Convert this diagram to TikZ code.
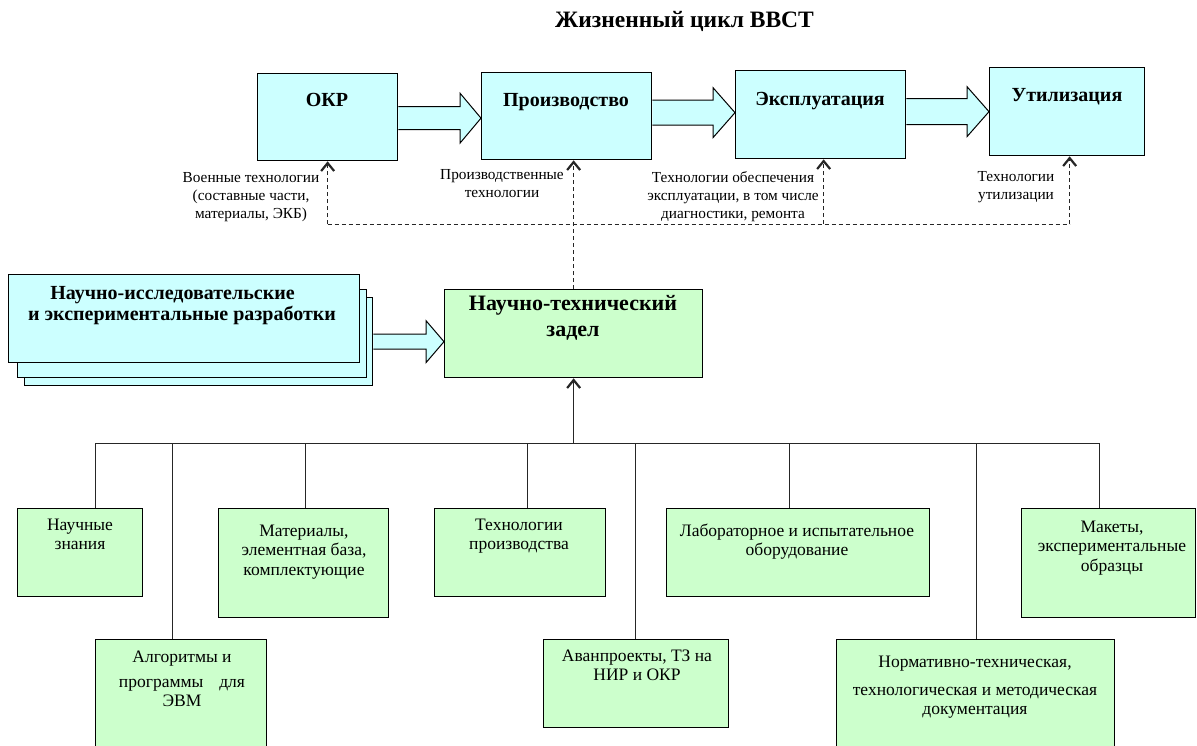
\documentclass[tikz,border=0pt]{standalone}
\usepackage{fontspec}
\setmainfont{Liberation Serif}
\usetikzlibrary{arrows.meta,calc}
\definecolor{cy}{HTML}{CCFFFF}
\definecolor{gr}{HTML}{CCFFCC}
\newcommand\blockarr[6]{%
  \filldraw[barr] let \p1=($(#1.east)+(0,#3)$), \p2=(#2.west) in
   (\x1,\y1+#4pt) -- (\x2-#6pt,\y1+#4pt) -- (\x2-#6pt,\y1+#5pt) -- (\x2,\y1)
   -- (\x2-#6pt,\y1-#5pt) -- (\x2-#6pt,\y1-#4pt) -- (\x1,\y1-#4pt);}
\begin{document}
\begin{tikzpicture}[x=1pt,y=-1pt,
  box/.style={draw=black,line width=1.3pt,inner sep=0pt,anchor=north west},
  cbox/.style={box,fill=cy},
  gbox/.style={box,fill=gr},
  barr/.style={draw=black,line width=1pt,fill=cy},
  ttl/.style={font=\fontsize{20}{23}\selectfont\bfseries,anchor=base,inner sep=0pt},
  bt/.style={font=\fontsize{17.5}{19.5}\selectfont,align=center,anchor=north,yshift=13.65pt,inner sep=0pt},
  lt/.style={font=\fontsize{15.3}{18}\selectfont,align=center,anchor=north,yshift=12.6pt,inner sep=0pt},
  tree/.style={draw=black!85,line width=1pt},
  dsh/.style={draw=black!85,line width=1pt,dash pattern=on 4pt off 3pt},
  vtip/.style={-{Straight Barb[length=8pt,width=13pt,line width=2.2pt]}}
]
\useasboundingbox (0,0) rectangle (1197,745);
\clip (0,0) rectangle (1197,745);

% title
\node[font=\fontsize{23.5}{26}\selectfont\bfseries,anchor=base,inner sep=0pt] (title) at (684.5,27.5) {Жизненный цикл ВВСТ};

% top row
\node[cbox,minimum width=140pt,minimum height=87pt] (okr) at (257,73) {};
\node[cbox,minimum width=170pt,minimum height=87pt] (prod) at (481,72) {};
\node[cbox,minimum width=170pt,minimum height=88pt] (expl) at (735,70) {};
\node[cbox,minimum width=155pt,minimum height=88pt] (util) at (989,67) {};
\node[ttl] (okrt) at (327,106.5) {ОКР};
\node[ttl] (prodt) at (566,106.5) {Производство};
\node[ttl] (explt) at (820,105) {Эксплуатация};
\node[ttl] (utilt) at (1067,101) {Утилизация};

\blockarr{okr}{prod}{1}{11.5}{25}{21}
\blockarr{prod}{expl}{-3.5}{12.5}{25}{22}
\blockarr{expl}{util}{-3}{13}{25}{22}

% NIR stack
\node[cbox,minimum width=348pt,minimum height=88pt] (nir3) at (24,297) {};
\node[cbox,minimum width=349pt,minimum height=88pt] (nir2) at (17,289) {};
\node[cbox,minimum width=351pt,minimum height=88pt] (nir1) at (8,274) {};
\node[font=\fontsize{20}{20}\selectfont\bfseries,align=center,anchor=north,yshift=14pt,inner sep=0pt] (nirt) at (182,299) {\strut Научно-исследовательские\hspace*{19pt}\\и экспериментальные разработки};

% NTZ
\node[gbox,minimum width=258pt,minimum height=88pt] (ntz) at (444,289) {};
\node[font=\fontsize{22}{25.5}\selectfont\bfseries,align=center,anchor=north,yshift=17.85pt,inner sep=0pt] (ntzt) at (573,310.7) {\strut Научно-технический\\задел};

\blockarr{nir3}{ntz}{0}{7.5}{21}{18}

% dashed links
\coordinate (bus) at (0,224);
\coordinate (pu) at ($(expl.south)+(3,0)$);
\coordinate (uu) at ($(util.south)+(2.5,0)$);
\draw[dsh] (okr.south |- bus) -- (uu |- bus);
\draw[dsh,vtip] (okr.south |- bus) -- (okr.south);
\draw[dsh,vtip] (ntz.north) -- (ntz.north |- prod.south);
\draw[dsh,vtip] (pu |- bus) -- (pu);
\draw[dsh,vtip] (uu |- bus) -- (uu);

\node[lt] (l1) at (251,182) {\strut Военные технологии\\(составные части,\\материалы, ЭКБ)};
\node[lt] (l2) at (502,179) {\strut Производственные\\технологии};
\node[lt] (l3) at (733,182) {\strut Технологии обеспечения\\эксплуатации, в том числе\\диагностики, ремонта};
\node[lt] (l4) at (1016,181) {\strut Технологии\\утилизации};

% bottom boxes
\node[gbox,minimum width=125pt,minimum height=88pt] (nz) at (17,508) {};
\node[gbox,minimum width=171pt,minimum height=130pt] (alg) at (95,639) {};
\node[gbox,minimum width=170pt,minimum height=109pt] (mat) at (218,508) {};
\node[gbox,minimum width=171pt,minimum height=88pt] (tech) at (434,508) {};
\node[gbox,minimum width=185pt,minimum height=88pt] (avan) at (543,639) {};
\node[gbox,minimum width=263pt,minimum height=88pt] (lab) at (666,508) {};
\node[gbox,minimum width=278pt,minimum height=130pt] (norm) at (836,639) {};
\node[gbox,minimum width=174pt,minimum height=109pt] (mak) at (1021,508) {};

\node[bt] (nzt) at (80,530) {\strut Научные\\знания};
\node[bt] (algt) at (182,662) {\strut Алгоритмы и\\[5.5pt]программы\hspace{11.5pt} для\\ЭВМ};
\node[bt] (matt) at (304,536) {\strut Материалы,\\элементная база,\\комплектующие};
\node[bt] (techt) at (519,530) {\strut Технологии\\производства};
\node[bt] (avant) at (637,661) {\strut Аванпроекты, ТЗ на\\НИР и ОКР};
\node[bt] (labt) at (797,536) {\strut Лабораторное и испытательное\\оборудование};
\node[bt] (normt) at (975,667) {\strut Нормативно-техническая,\\[8.5pt]технологическая и методическая\\документация};
\node[bt] (makt) at (1112,532) {\strut Макеты,\\экспериментальные\\образцы};

% tree
\coordinate (j1) at (95,443);
\coordinate (j2) at (172,443);
\coordinate (j3) at (305,443);
\coordinate (j4) at (527,443);
\coordinate (j5) at (635,443);
\coordinate (j6) at (789,443);
\coordinate (j7) at (976,443);
\coordinate (j8) at (1099,443);
\draw[tree] (j1) -- (j8);
\draw[tree,vtip] (ntz.south |- j1) -- (ntz.south);
\draw[tree] (j1) -- (j1 |- nz.north);
\draw[tree] (j2) -- (j2 |- alg.north);
\draw[tree] (j3) -- (j3 |- mat.north);
\draw[tree] (j4) -- (j4 |- tech.north);
\draw[tree] (j5) -- (j5 |- avan.north);
\draw[tree] (j6) -- (j6 |- lab.north);
\draw[tree] (j7) -- (j7 |- norm.north);
\draw[tree] (j8) -- (j8 |- mak.north);
\end{tikzpicture}
\end{document}
